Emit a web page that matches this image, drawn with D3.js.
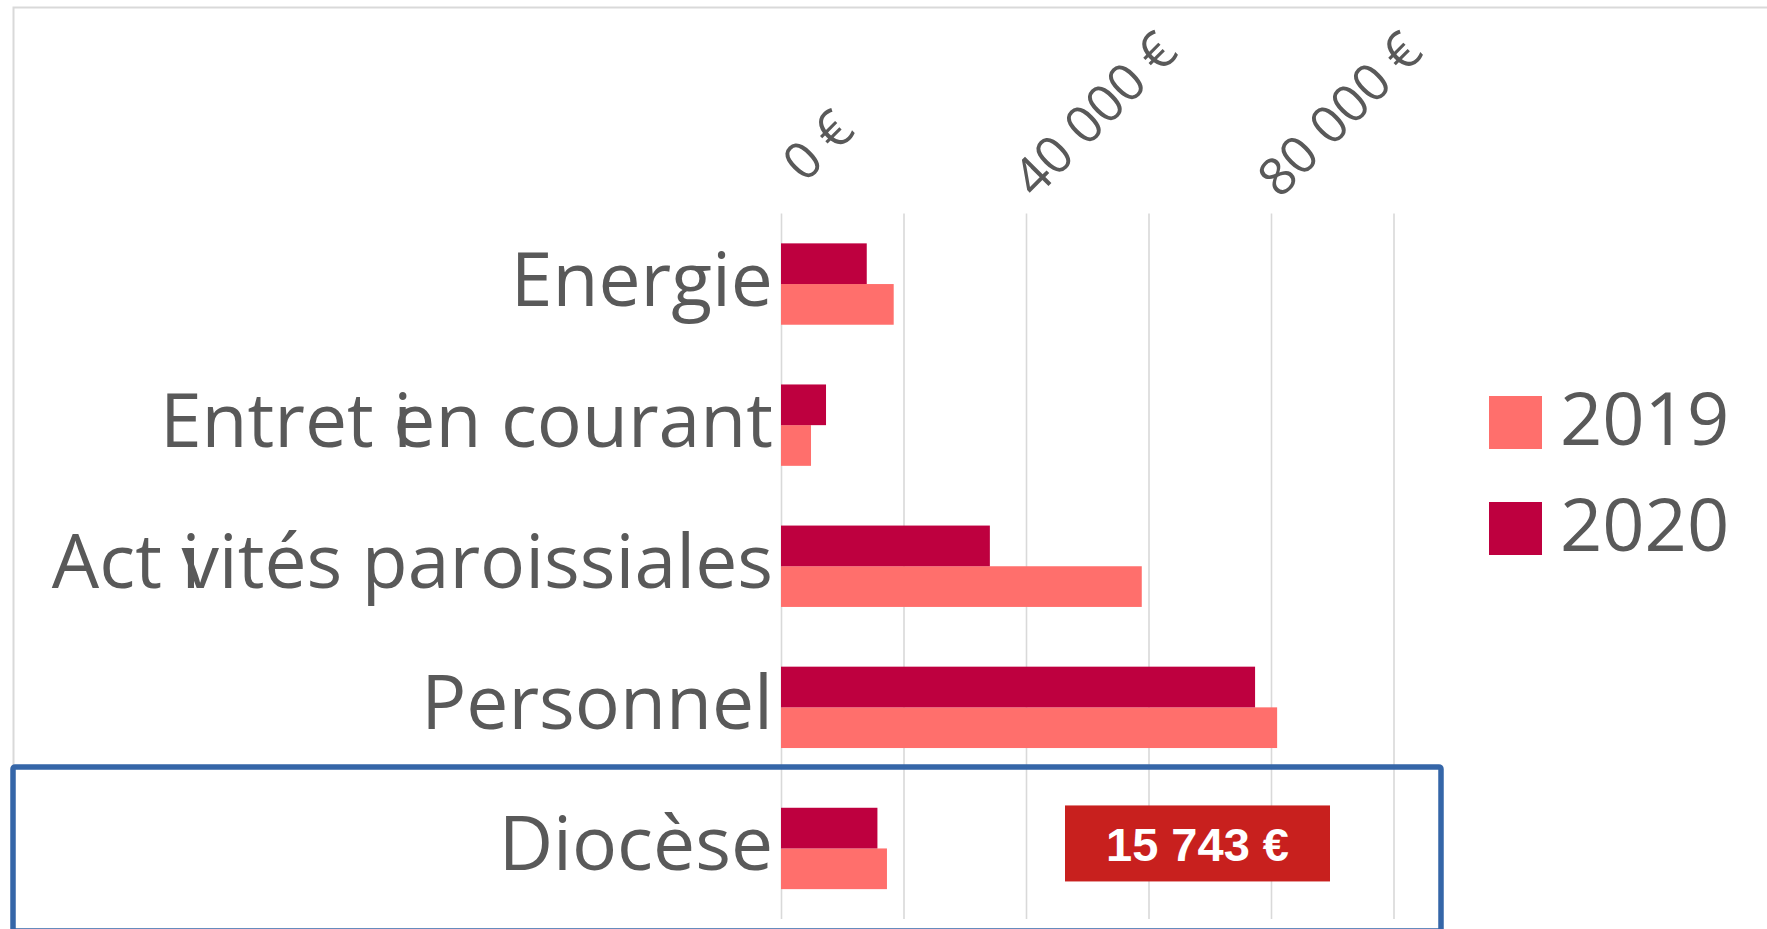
<!DOCTYPE html>
<html>
<head>
<meta charset="utf-8">
<script src="https://cdn.jsdelivr.net/npm/d3@7"></script>
<style>
  html, body { margin: 0; padding: 0; background: #ffffff; }
  svg { display: block; }
</style>
</head>
<body>
<svg id="chart" width="1767" height="929"></svg>
<script>
// ---- data ----
const categories = ["Energie", "Entretien courant", "Activités paroissiales", "Personnel", "Diocèse"];
const seriesNames = ["2019", "2020"];
const values2019 = [18400, 4900, 58900, 81000, 17300];
const values2020 = [14000, 7350, 34100, 77400, 15743];
const gridTicks = [0, 20000, 40000, 60000, 80000, 100000];
const labelTicks = [0, 40000, 80000];
const highlightCategory = "Diocèse";
const highlightSeries = "2020";

// ---- layout / style ----
const W = 1767, H = 929;
const plotLeft = 781, plotRight = 1393.5, plotTop = 213.5, plotBottom = 919;
const colors = { "2019": "#ff6f6c", "2020": "#be003f" };
const textColor = "#595959";
const gridColor = "#d9d9d9";

const svg = d3.select("#chart");

const fmtNum = d3.formatLocale({ decimal: ",", thousands: " ", grouping: [3], currency: ["", " €"] }).format("$,.0f");

// chart frame
svg.append("path")
  .attr("d", `M13.5,${H + 5} L13.5,7.5 L${W + 5},7.5`)
  .attr("fill", "none").attr("stroke", gridColor).attr("stroke-width", 2);

const x = d3.scaleLinear().domain([0, 100000]).range([plotLeft, plotRight]);
const y = d3.scaleBand().domain(categories).range([plotTop, plotBottom]).padding(0);
const yInner = d3.scaleBand().domain(["2020", "2019"]).range([0, y.bandwidth()])
  .paddingInner(0).paddingOuter(0.734);

// gridlines + top axis
const axis = svg.append("g")
  .attr("transform", `translate(0,${plotTop})`)
  .call(d3.axisTop(x).tickValues(gridTicks).tickSize(-(plotBottom - plotTop))
    .tickFormat(d => labelTicks.includes(d) ? fmtNum(d) : ""));
axis.select(".domain").remove();
axis.selectAll(".tick line").attr("stroke", gridColor).attr("stroke-width", 1.6);
axis.selectAll(".tick text")
  .attr("x", 0).attr("y", 0).attr("dy", 0)
  .attr("text-anchor", "start")
  .attr("fill", textColor)
  .style("font-family", "'Open Sans', sans-serif")
  .style("font-size", "52px")
  .each(function () {
    const L = this.getComputedTextLength();
    d3.select(this).attr("transform",
      `translate(${32 - 0.115 * L},${-38 + 0.117 * L}) rotate(-45)`);
  });

// bars
const rows = categories.map((c, i) => ({ cat: c, "2019": values2019[i], "2020": values2020[i] }));
const groups = svg.append("g").selectAll("g").data(rows).join("g")
  .attr("transform", d => `translate(0,${y(d.cat)})`);
groups.selectAll("rect")
  .data(d => seriesNames.map(s => ({ s, v: d[s] })))
  .join("rect")
  .attr("x", x(0))
  .attr("y", d => yInner(d.s))
  .attr("width", d => x(d.v) - x(0))
  .attr("height", yInner.bandwidth())
  .attr("fill", d => colors[d.s]);

// category labels (reproducing the overlapping "i" glyph of the original rendering)
const overlapIndex = { "Entretien courant": 6, "Activités paroissiales": 3 };
const labelFont = "'Open Sans', sans-serif";
categories.forEach(c => {
  const t = svg.append("text")
    .attr("x", plotLeft - 8)
    .attr("y", y(c) + y.bandwidth() / 2)
    .attr("dy", "0.29em")
    .attr("text-anchor", "end")
    .attr("fill", textColor)
    .style("font-family", labelFont)
    .style("font-size", "75px");
  const k = overlapIndex[c];
  if (k === undefined) {
    t.text(c);
  } else {
    t.append("tspan").text(c.slice(0, k) + " ");
    const ti = t.append("tspan").text(c[k]);
    const iw = ti.node().getComputedTextLength();
    t.append("tspan").attr("dx", -iw).text(c.slice(k + 1));
  }
});

// legend
const legend = svg.append("g").attr("transform", "translate(1489,396)");
seriesNames.forEach((s, i) => {
  const g = legend.append("g").attr("transform", `translate(0,${i * 106})`);
  g.append("rect").attr("width", 53).attr("height", 53).attr("fill", colors[s]);
  g.append("text").attr("x", 71).attr("y", 49)
    .attr("fill", textColor)
    .style("font-family", "'Open Sans', sans-serif")
    .style("font-size", "74px")
    .text(s);
});

// highlight box around the Diocèse row
const hb = y(highlightCategory);
svg.append("rect")
  .attr("x", 13).attr("y", hb - 11)
  .attr("width", 1428).attr("height", 164)
  .attr("rx", 2)
  .attr("fill", "none").attr("stroke", "#3566a8").attr("stroke-width", 5.5);

// value callout
const hv = values2020[categories.indexOf(highlightCategory)];
const cx = x(68000), cy = hb + y.bandwidth() / 2 - 5;
svg.append("rect")
  .attr("x", cx - 132.5).attr("y", cy - 38)
  .attr("width", 265).attr("height", 76)
  .attr("fill", "#c8201e");
svg.append("text")
  .attr("x", cx).attr("y", cy + 18)
  .attr("text-anchor", "middle")
  .attr("fill", "#ffffff")
  .style("font-family", "'Liberation Sans', Arial, sans-serif")
  .style("font-weight", "bold")
  .style("font-size", "47px")
  .text(fmtNum(hv));
</script>
</body>
</html>
